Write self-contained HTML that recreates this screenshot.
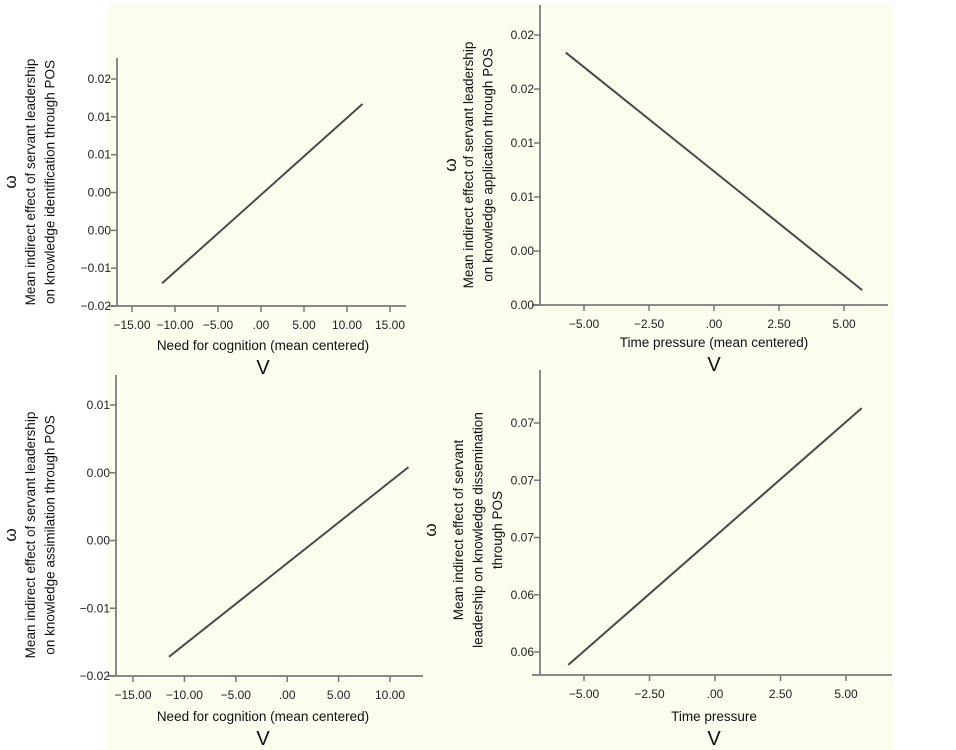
<!DOCTYPE html>
<html><head><meta charset="utf-8">
<style>
html,body{margin:0;padding:0;background:#fff;}
svg{display:block;font-family:"Liberation Sans",sans-serif;}
.tl{font-size:12px;fill:#222;}
.at{font-size:13.5px;fill:#111;}
.ax{stroke:#8a8a8a;stroke-width:2;fill:none;}
.tk{stroke:#777;stroke-width:1.5;}
.ln{stroke:#4a4a4a;stroke-width:2;}
</style></head>
<body>
<svg id="fig" width="956" height="750" viewBox="0 0 956 750">
<rect x="107" y="3" width="787" height="747" fill="#fcfcef"/>
</svg>
<script>
// Panel A: need for cognition -> knowledge identification
const aXTicks = [-15, -10, -5, 0, 5, 10, 15];
const aXLabels = ["\u221215.00", "\u221210.00", "\u22125.00", ".00", "5.00", "10.00", "15.00"];
const aYTicks = [-0.015, -0.010, -0.005, 0.000, 0.005, 0.010, 0.015];
const aYLabels = ["\u22120.02", "\u22120.01", "0.00", "0.00", "0.01", "0.01", "0.02"];
const aLineX = [-11.5, 11.8];
const aLineY = [-0.0120, 0.0117];

// Panel B: time pressure -> knowledge application
const bXTicks = [-5, -2.5, 0, 2.5, 5];
const bXLabels = ["\u22125.00", "\u22122.50", ".00", "2.50", "5.00"];
const bYTicks = [0.000, 0.004, 0.008, 0.012, 0.016, 0.020];
const bYLabels = ["0.00", "0.00", "0.01", "0.01", "0.02", "0.02"];
const bLineX = [-5.7, 5.7];
const bLineY = [0.0187, 0.0011];

// Panel C: need for cognition -> knowledge assimilation
const cXTicks = [-15, -10, -5, 0, 5, 10];
const cXLabels = ["\u221215.00", "\u221210.00", "\u22125.00", ".00", "5.00", "10.00"];
const cYTicks = [-0.015, -0.009, -0.003, 0.003, 0.009];
const cYLabels = ["\u22120.02", "\u22120.01", "0.00", "0.00", "0.01"];
const cLineX = [-11.5, 11.8];
const cLineY = [-0.0133, 0.0035];

// Panel D: time pressure -> knowledge dissemination
const dXTicks = [-5, -2.5, 0, 2.5, 5];
const dXLabels = ["\u22125.00", "\u22122.50", ".00", "2.50", "5.00"];
const dYTicks = [0.062, 0.064, 0.066, 0.068, 0.070];
const dYLabels = ["0.06", "0.06", "0.07", "0.07", "0.07"];
const dLineX = [-5.6, 5.6];
const dLineY = [0.06155, 0.07052];

const NS = "http://www.w3.org/2000/svg";
const svg = document.getElementById("fig");
function mk(tag, attrs, parent) {
  const e = document.createElementNS(NS, tag);
  for (const k in attrs) e.setAttribute(k, attrs[k]);
  (parent || svg).appendChild(e);
  return e;
}

function panel(cfg) {
  const g = mk("g", {});
  
  
  const xs = v => cfg.x0px + (v - cfg.xd[0]) / (cfg.xd[1] - cfg.xd[0]) * (cfg.x1px - cfg.x0px);
  const ys = v => cfg.y0px + (v - cfg.yd[0]) / (cfg.yd[1] - cfg.yd[0]) * (cfg.y1px - cfg.y0px);
  const ya = mk("line", {x1: cfg.ax, y1: cfg.axTop, x2: cfg.ax, y2: cfg.ay, class: "ax"}, g);
  
  
  const xa = mk("line", {x1: cfg.ax - 8, y1: cfg.ay, x2: cfg.axRight, y2: cfg.ay, class: "ax"}, g);
  
  
  cfg.xt.forEach((v, i) => {
    const x = xs(v);
    const t = mk("line", {x1: x, y1: cfg.ay, x2: x, y2: cfg.ay + 6, class: "tk"}, g);
    
    
    const l = mk("text", {x: x, y: cfg.ay + 23, class: "tl", "text-anchor": "middle"}, g);
    l.textContent = cfg.xl[i];
    
    
  });
  cfg.yt.forEach((v, i) => {
    const y = ys(v);
    const t = mk("line", {x1: cfg.ax - 6, y1: y, x2: cfg.ax, y2: y, class: "tk"}, g);
    
    
    const l = mk("text", {x: cfg.ax - 6, y: y + 4, class: "tl", "text-anchor": "end"}, g);
    l.textContent = cfg.yl[i];
    
    
  });
  const ln = mk("line", {x1: xs(cfg.lx[0]), y1: ys(cfg.ly[0]), x2: xs(cfg.lx[1]), y2: ys(cfg.ly[1]), class: "ln"}, g);
  
  
  const xt = mk("text", {x: cfg.xtx, y: cfg.xty, class: "at", "text-anchor": "middle"}, g);
  xt.textContent = cfg.xtitle;
  
  
  const v = mk("text", {x: cfg.xtx, y: cfg.xty + 24, "font-size": "20", fill: "#111", "text-anchor": "middle"}, g);
  v.textContent = "V";
  
  
  const yt = mk("text", {transform: `translate(${cfg.ytx},${cfg.ytc}) rotate(-90)`, class: "at", "text-anchor": "middle"}, g);
  
  
  cfg.ytitle.forEach((s, i) => {
    const ts = mk("tspan", {x: 0, dy: i === 0 ? 0 : 19.5}, yt);
    ts.textContent = s;
  });
  const w = mk("text", {transform: `translate(${cfg.wx},${cfg.ytc}) rotate(-90)`, "font-size": "17", fill: "#111", "text-anchor": "middle"}, g);
  w.textContent = "\u03c9";
  
  
}

panel({name: "panel-knowledge-identification", xd: [-15, 15], x0px: 132, x1px: 390, yd: [-0.015, 0.015], y0px: 306, y1px: 79,
  ax: 117, ay: 306, axTop: 58, axRight: 406, xt: aXTicks, xl: aXLabels, yt: aYTicks, yl: aYLabels, lx: aLineX, ly: aLineY,
  xtx: 263, xty: 350, xtitle: "Need for cognition (mean centered)",
  ytx: 35, ytc: 182, wx: 16, ytitle: ["Mean indirect effect of servant leadership", "on knowledge identification through POS"]});

panel({name: "panel-knowledge-application", xd: [-5, 5], x0px: 584, x1px: 844, yd: [0, 0.020], y0px: 305, y1px: 35,
  ax: 540, ay: 305, axTop: 5, axRight: 888, xt: bXTicks, xl: bXLabels, yt: bYTicks, yl: bYLabels, lx: bLineX, ly: bLineY,
  xtx: 714, xty: 347, xtitle: "Time pressure (mean centered)",
  ytx: 473, ytc: 165, wx: 456, ytitle: ["Mean indirect effect of servant leadership", "on knowledge application through POS"]});

panel({name: "panel-knowledge-assimilation", xd: [-15, 10], x0px: 133, x1px: 390, yd: [-0.015, 0.009], y0px: 676, y1px: 405,
  ax: 116, ay: 676, axTop: 375, axRight: 423, xt: cXTicks, xl: cXLabels, yt: cYTicks, yl: cYLabels, lx: cLineX, ly: cLineY,
  xtx: 263, xty: 721, xtitle: "Need for cognition (mean centered)",
  ytx: 35, ytc: 535, wx: 16, ytitle: ["Mean indirect effect of servant leadership", "on knowledge assimilation through POS"]});

panel({name: "panel-knowledge-dissemination", xd: [-5, 5], x0px: 584, x1px: 846, yd: [0.062, 0.070], y0px: 652, y1px: 423,
  ax: 540, ay: 675, axTop: 370, axRight: 892, xt: dXTicks, xl: dXLabels, yt: dYTicks, yl: dYLabels, lx: dLineX, ly: dLineY,
  xtx: 714, xty: 721, xtitle: "Time pressure",
  ytx: 463, ytc: 530, wx: 436, ytitle: ["Mean indirect effect of servant", "leadership on knowledge dissemination", "through POS"]});
</script>
</body></html>
